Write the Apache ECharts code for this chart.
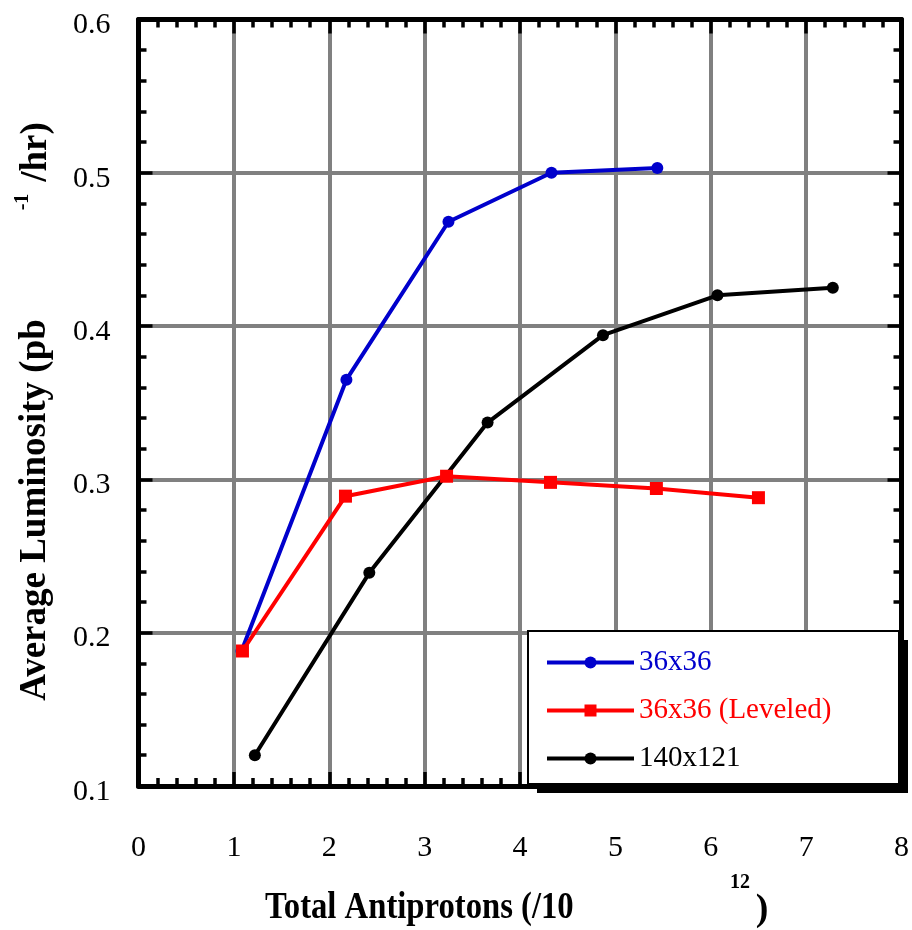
<!DOCTYPE html>
<html>
<head>
<meta charset="utf-8">
<script src="https://cdn.jsdelivr.net/npm/echarts@6/dist/echarts.min.js"></script>
<style>
  html, body { margin: 0; padding: 0; background: #ffffff; }
  #chart { width: 912px; height: 930px; }
</style>
</head>
<body>
<div id="chart"></div>
<script>
// Average luminosity vs. total antiprotons for three collider configurations
const seriesNames = ['36x36', '36x36 (Leveled)', '140x121'];
const seriesColors = ['#0000cc', '#ff0000', '#000000'];

const antiprotons36 = [1.08, 2.18, 3.25, 4.33, 5.44];
const luminosity36 = [0.188, 0.365, 0.468, 0.500, 0.503];

const antiprotonsLeveled = [1.09, 2.17, 3.23, 4.32, 5.43, 6.50];
const luminosityLeveled = [0.188, 0.289, 0.302, 0.298, 0.294, 0.288];

const antiprotons140 = [1.22, 2.42, 3.66, 4.87, 6.07, 7.28];
const luminosity140 = [0.120, 0.239, 0.337, 0.394, 0.420, 0.425];

const xTickLabels = ['0', '1', '2', '3', '4', '5', '6', '7', '8'];
const yTickLabels = ['0.1', '0.2', '0.3', '0.4', '0.5', '0.6'];

const serif = '"Liberation Serif", "Times New Roman", serif';

function pairs(xs, ys) {
  return xs.map((x, i) => [x, ys[i]]);
}

const tickStyle = { show: true, inside: true, length: 14, lineStyle: { color: '#000', width: 3.5 } };
const minorStyle = { show: true, splitNumber: 5, length: 8, lineStyle: { color: '#000', width: 3.5 } };
const lineStyleAxis = { show: true, onZero: false, lineStyle: { color: '#000', width: 5 } };
const gridLine = { show: true, lineStyle: { color: '#808080', width: 4 } };

const chart = echarts.init(document.getElementById('chart'), null, { renderer: 'canvas' });

chart.setOption({
  backgroundColor: '#ffffff',
  animation: false,
  grid: { left: 138.5, right: 8.7, top: 19.4, bottom: 144.1, containLabel: false },
  xAxis: [
    {
      type: 'value', min: 0, max: 8, interval: 1, position: 'bottom',
      axisLine: lineStyleAxis, axisTick: tickStyle, minorTick: minorStyle,
      splitLine: gridLine,
      axisLabel: {
        margin: 47, color: '#000', fontFamily: serif, fontSize: 30,
        formatter: (v) => xTickLabels[Math.round(v)]
      }
    },
    {
      type: 'value', min: 0, max: 8, interval: 1, position: 'top',
      axisLine: lineStyleAxis, axisTick: tickStyle, minorTick: minorStyle,
      splitLine: { show: false }, axisLabel: { show: false }
    }
  ],
  yAxis: [
    {
      type: 'value', min: 0.1, max: 0.6, interval: 0.1, position: 'left',
      axisLine: lineStyleAxis, axisTick: tickStyle, minorTick: minorStyle,
      splitLine: gridLine,
      axisLabel: {
        margin: 28, color: '#000', fontFamily: serif, fontSize: 30,
        formatter: (v) => '{t|' + yTickLabels[Math.round(v * 10) - 1] + '}',
        rich: { t: { fontFamily: serif, fontSize: 30, color: '#000', padding: [12, 0, 0, 0] } }
      }
    },
    {
      type: 'value', min: 0.1, max: 0.6, interval: 0.1, position: 'right',
      axisLine: lineStyleAxis, axisTick: tickStyle, minorTick: minorStyle,
      splitLine: { show: false }, axisLabel: { show: false }
    }
  ],
  legend: {
    orient: 'vertical', left: 545, top: 648, padding: 0, itemGap: 19,
    itemWidth: 87, itemHeight: 15, z: 10,
    lineStyle: { width: 4 },
    textStyle: { fontFamily: serif, fontSize: 29, lineHeight: 28 },
    data: seriesNames.map((n, i) => ({ name: n, textStyle: { color: seriesColors[i] } }))
  },
  graphic: [
    // legend frame with its drop shadow
    { type: 'rect', z: 6, shape: { x: 537, y: 640, width: 371, height: 153 }, style: { fill: '#000' } },
    { type: 'rect', z: 7, shape: { x: 528, y: 631, width: 371, height: 153 }, style: { fill: '#fff', stroke: '#000', lineWidth: 2 } },
    // x-axis title
    { type: 'text', z: 7, x: 265, y: 908, scaleX: 0.86,
      style: { text: 'Total Antiprotons (/10', font: 'bold 38px ' + serif, fill: '#000', align: 'left', verticalAlign: 'middle' } },
    { type: 'text', z: 7, x: 740, y: 883,
      style: { text: '12', font: 'bold 20px ' + serif, fill: '#000', align: 'center', verticalAlign: 'middle' } },
    { type: 'text', z: 7, x: 762, y: 910,
      style: { text: ')', font: 'bold 38px ' + serif, fill: '#000', align: 'center', verticalAlign: 'middle' } },
    // y-axis title
    { type: 'text', z: 7, x: 35, y: 510, rotation: Math.PI / 2,
      style: { text: 'Average Luminosity (pb', font: 'bold 37px ' + serif, fill: '#000', align: 'center', verticalAlign: 'middle' } },
    { type: 'text', z: 7, x: 23, y: 202, rotation: Math.PI / 2,
      style: { text: '-1', font: 'bold 20px ' + serif, fill: '#000', align: 'center', verticalAlign: 'middle' } },
    { type: 'text', z: 7, x: 36, y: 152, rotation: Math.PI / 2,
      style: { text: '/hr)', font: 'bold 37px ' + serif, fill: '#000', align: 'center', verticalAlign: 'middle' } }
  ],
  series: [
    {
      name: seriesNames[0], type: 'line', xAxisIndex: 0, yAxisIndex: 0,
      data: pairs(antiprotons36, luminosity36),
      symbol: 'circle', symbolSize: 12,
      lineStyle: { color: seriesColors[0], width: 4 },
      itemStyle: { color: seriesColors[0] }
    },
    {
      name: seriesNames[1], type: 'line', xAxisIndex: 0, yAxisIndex: 0,
      data: pairs(antiprotonsLeveled, luminosityLeveled),
      symbol: 'rect', symbolSize: 13,
      lineStyle: { color: seriesColors[1], width: 4 },
      itemStyle: { color: seriesColors[1] }
    },
    {
      name: seriesNames[2], type: 'line', xAxisIndex: 0, yAxisIndex: 0,
      data: pairs(antiprotons140, luminosity140),
      symbol: 'circle', symbolSize: 12,
      lineStyle: { color: seriesColors[2], width: 4 },
      itemStyle: { color: seriesColors[2] }
    }
  ]
});
</script>
</body>
</html>
